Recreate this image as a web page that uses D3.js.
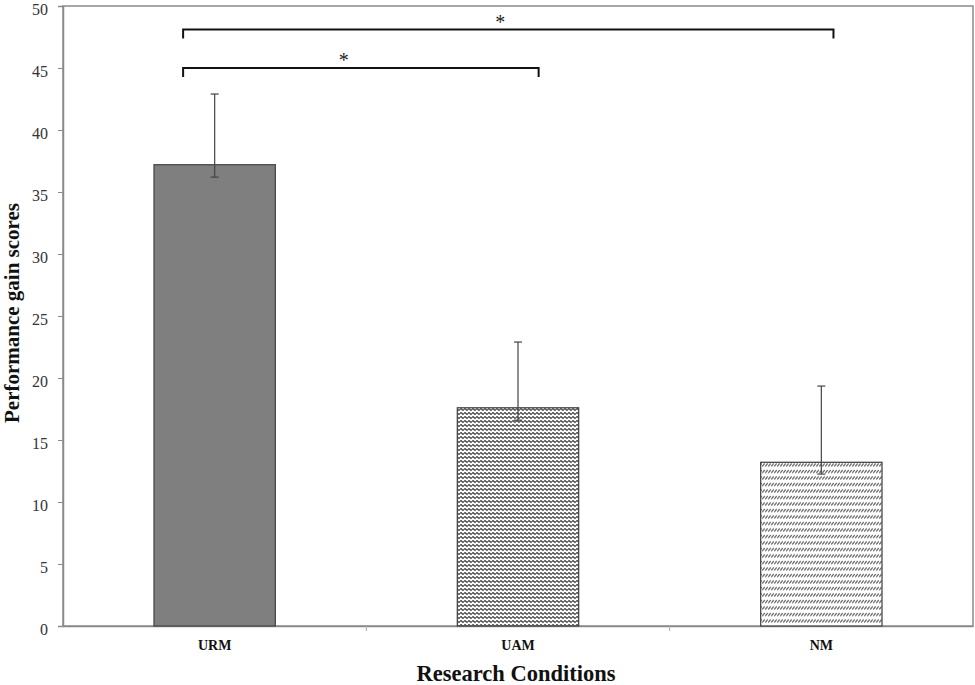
<!DOCTYPE html>
<html><head><meta charset="utf-8">
<script src="https://cdn.jsdelivr.net/npm/d3@7"></script>
<style>body{margin:0;background:#fff}svg{display:block}text{font-family:'Liberation Serif','Times New Roman',serif}</style>
</head><body>
<svg id="c" width="975" height="685"></svg>
<script>
const categories = ["URM", "UAM", "NM"];
const means = [37.2, 17.6, 13.2];
const errUpper = [42.9, 22.9, 19.35];
const errLower = [36.2, 16.6, 12.25];
const yTicks = [0, 5, 10, 15, 20, 25, 30, 35, 40, 45, 50];
const sigPairs = [["URM", "NM", 48.1], ["URM", "UAM", 45.0]];
const sigLabels = ["*", "*"];

const svg = d3.select("#c");
const m = {l: 63, t: 6, r: 973, b: 626};
const x = d3.scaleBand().domain(categories).range([m.l, m.r]).paddingInner(0.6).paddingOuter(0.3);
const xb = d3.scaleBand().domain(categories).range([m.l, m.r]);
const y = d3.scaleLinear().domain([0, 50]).range([m.b, m.t]);
const font = "'Liberation Serif','Times New Roman',serif";

// patterns
const defs = svg.append("defs");
const p1 = defs.append("pattern").attr("id", "wave").attr("patternUnits", "userSpaceOnUse")
  .attr("width", 4).attr("height", 4);
p1.append("rect").attr("width", 4).attr("height", 4).attr("fill", "#fff");
p1.append("path").attr("d", "M0,1.5 L1,0.5 L2,1.5 L3,2.5 L4,1.5").attr("stroke", "#444").attr("stroke-width", 1.2).attr("fill", "none");
const p2 = defs.append("pattern").attr("id", "diag").attr("patternUnits", "userSpaceOnUse")
  .attr("width", 3).attr("height", 6.5);
p2.append("rect").attr("width", 3).attr("height", 6.5).attr("fill", "#fff");
p2.append("path").attr("d", "M0.3,5 L2.7,2").attr("stroke", "#555").attr("stroke-width", 1.1).attr("fill", "none");
const fills = ["#7f7f7f", "url(#wave)", "url(#diag)"];

// plot frame
svg.append("rect").attr("x", m.l).attr("y", m.t).attr("width", m.r - m.l).attr("height", m.b - m.t)
  .attr("fill", "none").attr("stroke", "#8a8a8a").attr("stroke-width", 1.5);

// y axis
const yAxis = svg.append("g").attr("transform", `translate(${m.l},0)`)
  .call(d3.axisLeft(y).tickValues(yTicks).tickSize(5).tickPadding(10));
yAxis.select(".domain").attr("stroke", "#8a8a8a").attr("stroke-width", 1.5);
yAxis.selectAll(".tick line").attr("stroke", "#8a8a8a");
yAxis.selectAll("text").attr("dy", "0.5em").style("font-family", font).style("font-size", "16px").attr("fill", "#333");

// x axis
const xAxis = svg.append("g").attr("transform", `translate(0,${m.b})`)
  .call(d3.axisBottom(x).tickSize(0).tickPadding(14));
xAxis.select(".domain").attr("stroke", "#8a8a8a").attr("stroke-width", 1.5);
xAxis.selectAll("text").style("font-family", font).style("font-size", "14px").attr("font-weight", "bold").attr("fill", "#111");
svg.append("g").selectAll("line").data(categories.slice(1)).join("line")
  .attr("x1", d => xb(d)).attr("x2", d => xb(d)).attr("y1", m.b).attr("y2", m.b + 5)
  .attr("stroke", "#aaa");

// bars
svg.append("g").selectAll("rect").data(categories).join("rect")
  .attr("x", d => x(d)).attr("width", x.bandwidth())
  .attr("y", (d, i) => y(means[i])).attr("height", (d, i) => y(0) - y(means[i]))
  .attr("fill", (d, i) => fills[i]).attr("stroke", "#4a4a4a").attr("stroke-width", 1.3);

// error bars
const eg = svg.append("g").attr("stroke", "#444").attr("stroke-width", 1.2);
categories.forEach((c, i) => {
  const cx = x(c) + x.bandwidth() / 2;
  eg.append("line").attr("x1", cx).attr("x2", cx).attr("y1", y(errUpper[i])).attr("y2", y(errLower[i]));
  eg.append("line").attr("x1", cx - 4).attr("x2", cx + 4).attr("y1", y(errUpper[i])).attr("y2", y(errUpper[i]));
  eg.append("line").attr("x1", cx - 4).attr("x2", cx + 4).attr("y1", y(errLower[i])).attr("y2", y(errLower[i]));
});

// significance brackets
const sg = svg.append("g");
const endFrac = [0.6, 0.67], starShift = [-8, -17];
sigPairs.forEach(([a, b, v], k) => {
  const x1 = x(a) + x.bandwidth() * 0.24, x2 = x(b) + x.bandwidth() * endFrac[k];
  const yy = y(v);
  sg.append("path").attr("d", `M${x1},${yy + 9} V${yy} H${x2} V${yy + 9}`)
    .attr("fill", "none").attr("stroke", "#111").attr("stroke-width", 2);
  sg.append("text").attr("x", (x1 + x2) / 2 + starShift[k]).attr("y", yy - 1).attr("text-anchor", "middle")
    .style("font-family", font).style("font-size", "20px").attr("fill", "#222").text(sigLabels[k]);
});

// axis titles
svg.append("text").attr("x", 516).attr("y", 681).attr("text-anchor", "middle")
  .style("font-family", font).style("font-size", "22.5px").attr("font-weight", "bold").attr("fill", "#111")
  .text("Research Conditions");
svg.append("text").attr("transform", "translate(19,313) rotate(-90)").attr("text-anchor", "middle")
  .style("font-family", font).style("font-size", "21px").attr("font-weight", "bold").attr("fill", "#111")
  .text("Performance gain scores");
</script>
</body></html>
